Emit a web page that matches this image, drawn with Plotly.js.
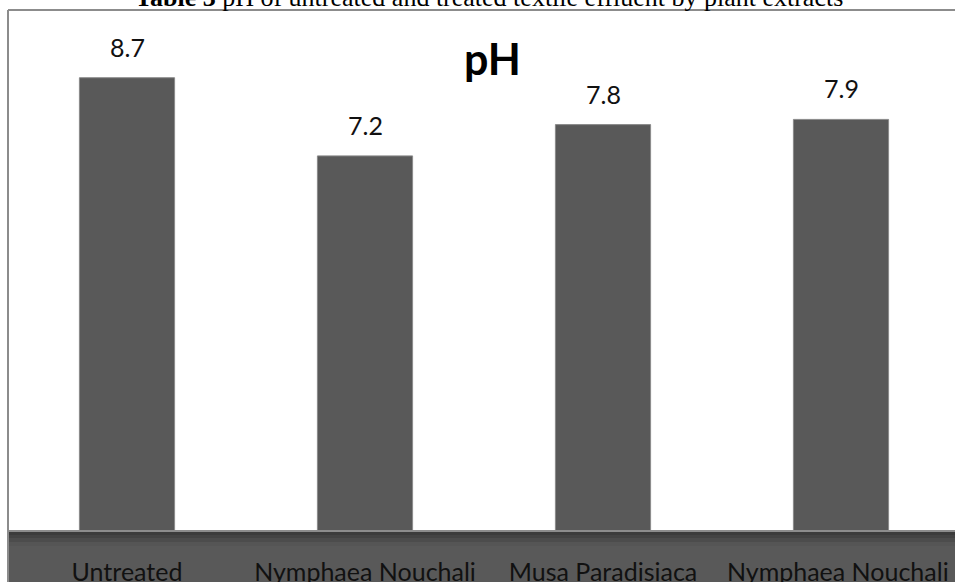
<!DOCTYPE html>
<html>
<head>
<meta charset="utf-8">
<script src="https://cdn.plot.ly/plotly-3.0.1.min.js"></script>
<style>
  html, body { margin: 0; padding: 0; background: #fff; }
  #chart { width: 955px; height: 582px; }
</style>
</head>
<body>
<div id="chart"></div>
<script>
// Data
const categories = ["Untreated", "Nymphaea Nouchali", "Musa Paradisiaca", "Nymphaea Nouchali "];
const phValues = [8.7, 7.2, 7.8, 7.9];
const valueLabels = ["8.7", "7.2", "7.8", "7.9"];
const chartTitle = "pH";
const captionBold = "Table 3";
const captionRest = " pH of untreated and treated textile effluent by plant extracts";

const sans = "Lato, 'Open Sans', sans-serif";

const trace = {
  type: "bar",
  x: categories,
  y: phValues,
  marker: { color: "#595959", line: { color: "#8a8a8a", width: 1 } },
  width: 0.4,
  hoverinfo: "skip",
  cliponaxis: false
};

const annotations = categories.map((c, i) => ({
  x: c, y: phValues[i], xref: "x", yref: "y",
  text: valueLabels[i], showarrow: false,
  yanchor: "bottom", yshift: 14,
  font: { family: sans, size: 25, color: "#111" }
}));

annotations.push({
  xref: "paper", yref: "paper", x: 0.5, y: 1, xanchor: "center", yanchor: "bottom",
  yshift: -4, xshift: 7,
  text: "<b>" + captionBold + "</b>" + captionRest, showarrow: false,
  font: { family: "'Liberation Serif', 'Times New Roman', serif", size: 26, color: "#000" }
});

// floor band below the plot area (paper units: 521 px plot height, 946 px width)
const ph = 521, pw = 946;
const pToPaper = p => (531 - p) / ph;
const xBorder = (8 - 9) / pw;
const band = (top, bottom, color) => ({
  type: "rect", xref: "paper", yref: "paper", x0: xBorder, x1: 1.02,
  y0: pToPaper(bottom), y1: pToPaper(top), fillcolor: color, line: { width: 0 }, layer: "below"
});
const shapes = [
  band(531, 600, "#595959"),
  band(531, 546, "#555555"),
  band(531, 542, "#4c4c4c"),
  band(531, 538, "#434343"),
  band(531, 535, "#3b3b3b"),
  { type: "line", xref: "paper", yref: "paper", x0: xBorder, x1: 1.02, y0: pToPaper(531), y1: pToPaper(531), line: { color: "#8c8c8c", width: 2 }, layer: "above" },
  // chart border (left and top)
  { type: "line", xref: "paper", yref: "paper", x0: xBorder, x1: xBorder, y0: pToPaper(600), y1: pToPaper(10), line: { color: "#8c8c8c", width: 2 }, layer: "above" },
  { type: "line", xref: "paper", yref: "paper", x0: xBorder, x1: 1.02, y0: pToPaper(10), y1: pToPaper(10), line: { color: "#8c8c8c", width: 2 }, layer: "above" }
];

const layout = {
  width: 955, height: 582,
  margin: { l: 9, r: 0, t: 10, b: 51, pad: 0 },
  paper_bgcolor: "#fff", plot_bgcolor: "rgba(0,0,0,0)",
  showlegend: false,
  title: {
    text: "<b>" + chartTitle + "</b>",
    font: { family: sans, size: 43, color: "#000" },
    x: 488 / 955, xanchor: "center", xref: "paper",
    y: 1 - 60 / 582, yanchor: "middle", yref: "container"
  },
  xaxis: {
    type: "category",
    range: [-0.4958, 3.479],
    showgrid: false, zeroline: false, showline: false, ticks: "",
    tickfont: { family: sans, size: 25, color: "#111" },
    ticklabelstandoff: 24,
    fixedrange: true
  },
  yaxis: {
    range: [0, 10],
    visible: false, showgrid: false, zeroline: false, fixedrange: true
  },
  annotations: annotations,
  shapes: shapes
};

Plotly.newPlot("chart", [trace], layout, { displayModeBar: false, staticPlot: true });
</script>
</body>
</html>
